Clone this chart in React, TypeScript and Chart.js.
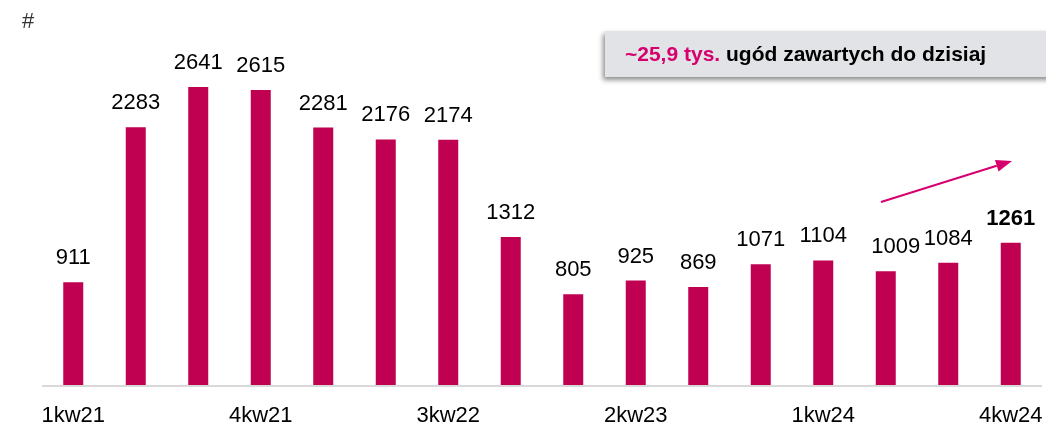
import React, { useEffect, useRef } from "react";
import { Chart, registerables } from "chart.js";

Chart.register(...registerables);

const categories = [
  "1kw21", "2kw21", "3kw21", "4kw21",
  "1kw22", "2kw22", "3kw22", "4kw22",
  "1kw23", "2kw23", "3kw23", "4kw23",
  "1kw24", "2kw24", "3kw24", "4kw24",
];
const values = [911, 2283, 2641, 2615, 2281, 2176, 2174, 1312, 805, 925, 869, 1071, 1104, 1009, 1084, 1261];
const shownTickLabels = ["1kw21", "4kw21", "3kw22", "2kw23", "1kw24", "4kw24"];
const boldValueIndex = [15];
const unitLabel = "#";
const calloutHighlight = "~25,9 tys.";
const calloutText = " ugód zawartych do dzisiaj";

const BAR = "#C00050";
const PINK = "#D6006E";
const FONT = "'Liberation Sans', Arial, sans-serif";

const overlay = {
  id: "overlay",
  afterDraw(chart: any) {
    const ctx = chart.ctx as CanvasRenderingContext2D;
    const area = chart.chartArea;
    const xs = chart.scales.x;
    const meta = chart.getDatasetMeta(0);
    ctx.save();

    // axis line
    ctx.strokeStyle = "#d9d9d9";
    ctx.lineWidth = 2;
    ctx.beginPath();
    ctx.moveTo(area.left, area.bottom + 1);
    ctx.lineTo(area.right, area.bottom + 1);
    ctx.stroke();

    // x tick labels
    ctx.fillStyle = "#000";
    ctx.font = `22px ${FONT}`;
    ctx.textAlign = "center";
    ctx.textBaseline = "alphabetic";
    categories.forEach((c, i) => {
      if (!shownTickLabels.includes(c)) return;
      ctx.fillText(c, xs.getPixelForValue(i), area.bottom + 37);
    });

    // value labels
    meta.data.forEach((bar: any, i: number) => {
      const bold = boldValueIndex.includes(i);
      ctx.font = `${bold ? "bold " : ""}22px ${FONT}`;
      ctx.fillStyle = "#000";
      const dx = i === 13 ? 10 : 0;
      ctx.fillText(String(values[i]), bar.x + dx, bar.y - 18);
    });

    // unit label
    ctx.textAlign = "left";
    ctx.font = `22px ${FONT}`;
    ctx.fillStyle = "#333";
    ctx.fillText(unitLabel, 22, 28);

    // callout box
    ctx.save();
    ctx.shadowColor = "rgba(0,0,0,0.45)";
    ctx.shadowBlur = 5;
    ctx.shadowOffsetX = -2;
    ctx.shadowOffsetY = 3;
    ctx.fillStyle = "#e1e3e6";
    ctx.fillRect(605, 31, 460, 46);
    ctx.restore();

    ctx.font = `bold 21px ${FONT}`;
    ctx.fillStyle = PINK;
    ctx.textBaseline = "alphabetic";
    ctx.fillText(calloutHighlight, 625, 61);
    const w = ctx.measureText(calloutHighlight).width;
    ctx.fillStyle = "#000";
    ctx.fillText(calloutText, 625 + w, 61);

    // trend arrow
    const x0 = 881, y0 = 202, x1 = 1012, y1 = 161;
    const ang = Math.atan2(y1 - y0, x1 - x0);
    const head = 16, hw = 6;
    ctx.strokeStyle = PINK;
    ctx.lineWidth = 2;
    ctx.beginPath();
    ctx.moveTo(x0, y0);
    ctx.lineTo(x1 - head * Math.cos(ang), y1 - head * Math.sin(ang));
    ctx.stroke();
    ctx.fillStyle = PINK;
    ctx.beginPath();
    ctx.moveTo(x1, y1);
    const bx = x1 - head * Math.cos(ang), by = y1 - head * Math.sin(ang);
    ctx.lineTo(bx + hw * Math.sin(ang), by - hw * Math.cos(ang));
    ctx.lineTo(bx - hw * Math.sin(ang), by + hw * Math.cos(ang));
    ctx.closePath();
    ctx.fill();

    ctx.restore();
  },
};

export default function App() {
  const ref = useRef<HTMLCanvasElement | null>(null);
  useEffect(() => {
    if (!ref.current) return;
    const chart = new Chart(ref.current, {
      type: "bar",
      data: {
        labels: categories,
        datasets: [
          {
            data: values,
            backgroundColor: BAR,
            borderWidth: 0,
            barPercentage: 0.32,
            categoryPercentage: 1.0,
          },
        ],
      },
      options: {
        animation: false,
        responsive: false,
        devicePixelRatio: 1,
        layout: { padding: { left: 42, right: 4, top: 69, bottom: 39 } },
        plugins: { legend: { display: false }, tooltip: { enabled: false } },
        scales: {
          x: { display: false },
          y: { display: false, min: 0, max: 2800 },
        },
      },
      plugins: [overlay],
    });
    return () => chart.destroy();
  }, []);
  return (
    <div style={{ position: "fixed", left: 0, top: 0, width: 1046, height: 424, background: "#fff" }}>
      <canvas ref={ref} width={1046} height={424} style={{ display: "block" }} />
    </div>
  );
}
